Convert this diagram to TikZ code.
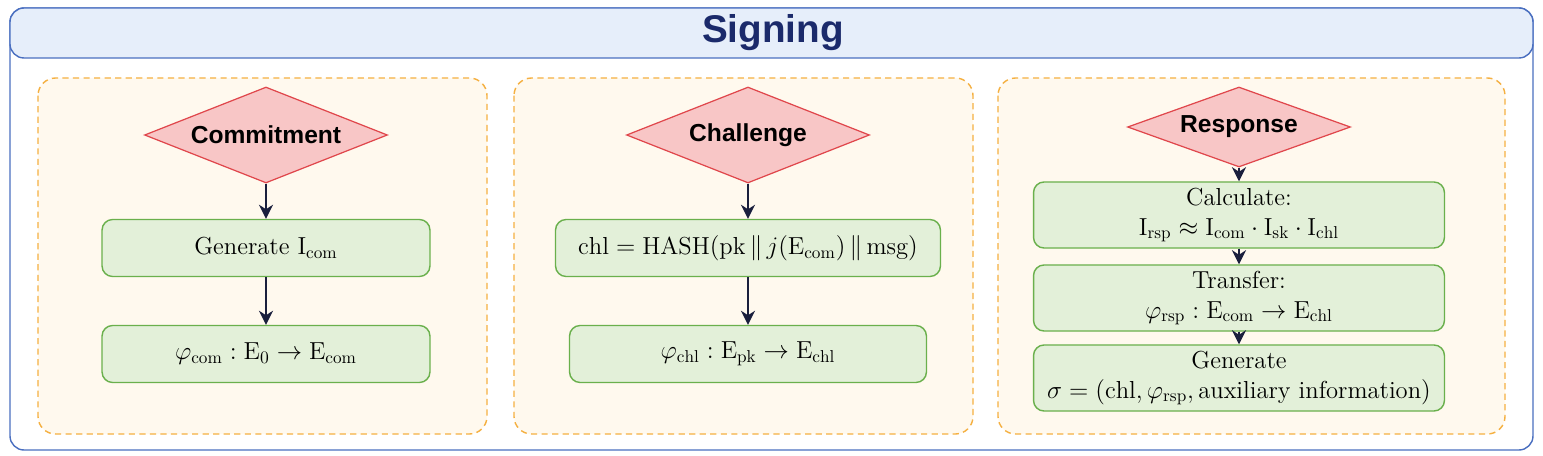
\documentclass[tikz,border=0pt]{standalone}
\usepackage{fontspec}
\newfontfamily\headfont{Liberation Sans}
\usetikzlibrary{shapes.geometric,arrows.meta}

\definecolor{frameblue}{HTML}{4A6FC0}
\definecolor{titlefill}{HTML}{E6EEFA}
\definecolor{titleink}{HTML}{1B2A6B}
\definecolor{panelfill}{HTML}{FFF9EE}
\definecolor{paneldash}{HTML}{F5B041}
\definecolor{phasefill}{HTML}{F8C6C6}
\definecolor{phaseline}{HTML}{E0474C}
\definecolor{actionfill}{HTML}{E3F0D9}
\definecolor{actionline}{HTML}{6AB04C}
\definecolor{arrowink}{HTML}{1A1F3D}

\tikzstyle{panel}=[draw=paneldash, fill=panelfill, line width=0.8pt, dash pattern=on 3.5pt off 2.5pt, rounded corners=10pt]
\tikzstyle{phase}=[diamond, aspect=2.6, draw=phaseline, fill=phasefill, line width=0.7pt, inner sep=1pt, minimum width=4.86cm, minimum height=1.92cm, font=\headfont\bfseries\fontsize{14}{16}\selectfont]
\tikzstyle{action}=[rectangle, rounded corners=6pt, draw=actionline, fill=actionfill, line width=0.8pt, minimum height=1.14cm, align=center, font=\fontsize{14}{17}\selectfont]
\tikzstyle{flow}=[-{Stealth[length=8pt,width=8pt]}, line width=1.3pt, draw=arrowink, fill=arrowink]

\begin{document}
\begin{tikzpicture}[x=0.02cm,y=-0.02cm]
\useasboundingbox (0,0) rectangle (1543,456);

% frame and title bar
\draw[draw=frameblue, fill=white, line width=0.8pt, rounded corners=8pt] (10,8) rectangle (1533,450);
\draw[draw=frameblue, fill=titlefill, line width=0.8pt, rounded corners=8pt] (10,8) rectangle (1533,58);
\node (title) at (773,33) [text=titleink, font=\headfont\bfseries\fontsize{22}{24}\selectfont] {Signing};

% panels
\draw[panel] (38,78) rectangle (487,434);
\draw[panel] (514,78) rectangle (973,434);
\draw[panel] (998,78) rectangle (1505,434);

% commitment
\node (c) at (266,135) [phase] {Commitment};
\node (c1) at (266,248) [action, minimum width=6.56cm] {Generate $\mathrm{I}_{\mathrm{com}}$};
\node (c2) at (266,354) [action, minimum width=6.56cm] {$\varphi_{\mathrm{com}} : \mathrm{E}_0 \to \mathrm{E}_{\mathrm{com}}$};

\draw[flow] (c) -- (c1);
\draw[flow] (c1) -- (c2);

% challenge
\node (h) at (748,135) [phase] {Challenge};
\node (h1) at (748,248) [action, minimum width=7.7cm] {$\mathrm{chl} = \mathrm{HASH}(\mathrm{pk} \,\|\, j(\mathrm{E}_{\mathrm{com}}) \,\|\, \mathrm{msg})$};
\node (h2) at (748,354) [action, minimum width=7.14cm] {$\varphi_{\mathrm{chl}} : \mathrm{E}_{\mathrm{pk}} \to \mathrm{E}_{\mathrm{chl}}$};

\draw[flow] (h) -- (h1);
\draw[flow] (h1) -- (h2);

% response
\node (r) at (1239,127) [phase, minimum width=4.46cm, minimum height=1.6cm] {Response};
\node (r1) at (1239,215) [action, minimum width=8.22cm, minimum height=1.32cm] {Calculate:\\ $\mathrm{I}_{\mathrm{rsp}} \approx \mathrm{I}_{\mathrm{com}} \cdot \mathrm{I}_{\mathrm{sk}} \cdot \mathrm{I}_{\mathrm{chl}}$};
\node (r2) at (1239,298) [action, minimum width=8.22cm, minimum height=1.28cm] {Transfer:\\ $\varphi_{\mathrm{rsp}} : \mathrm{E}_{\mathrm{com}} \to \mathrm{E}_{\mathrm{chl}}$};
\node (r3) at (1239,378) [action, minimum width=8.22cm, minimum height=1.24cm] {Generate\\ $\sigma = (\mathrm{chl}, \varphi_{\mathrm{rsp}}, \mbox{auxiliary information})$};

\draw[flow] (r) -- (r1);
\draw[flow] (r1) -- (r2);
\draw[flow] (r2) -- (r3);

\end{tikzpicture}
\end{document}
